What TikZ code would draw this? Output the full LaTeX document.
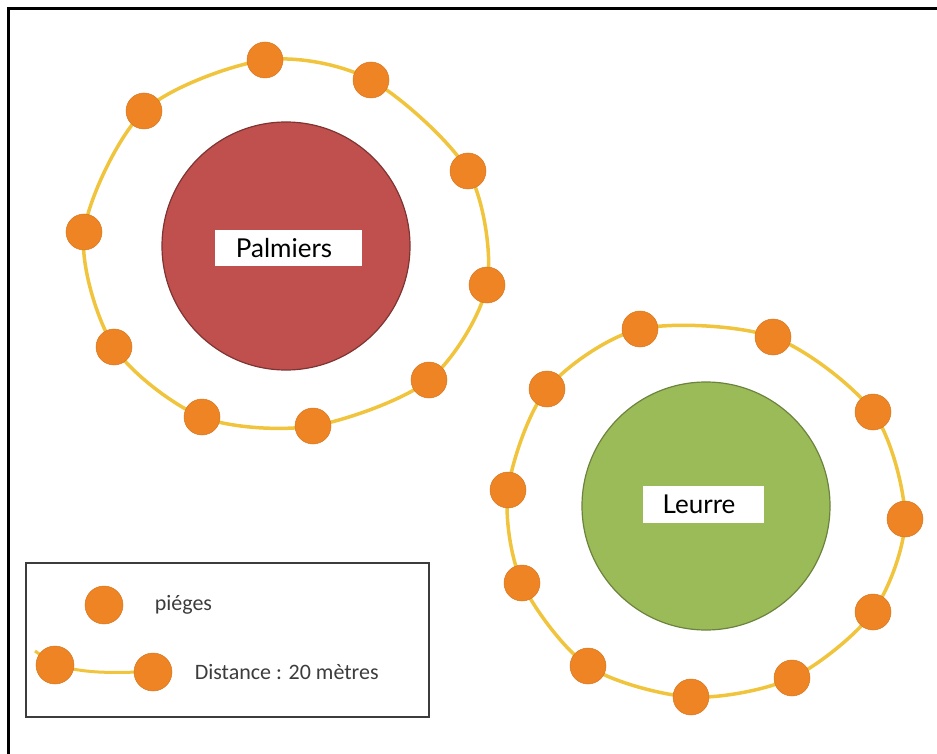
\documentclass[tikz,border=0pt]{standalone}
\usepackage{fontspec}
\setmainfont{Carlito}
\newfontfamily\tagfont{Lato}
\usetikzlibrary{positioning}

\definecolor{trapcol}{HTML}{EE8424}
\definecolor{ringcol}{HTML}{F0C43C}
\definecolor{palmred}{HTML}{C0504D}
\definecolor{lurgreen}{HTML}{9BBB59}
\definecolor{keygray}{HTML}{3C3C3C}

\tikzset{
  trap/.style={circle,fill=trapcol,draw=trapcol!90!black,line width=0.5pt,
    minimum size=36pt,inner sep=0pt},
  ringline/.style={draw=ringcol,line width=3.5pt},
  tagbox/.style={fill=white,inner sep=0pt,minimum height=35pt,
    font=\tagfont\fontsize{26}{30}\selectfont},
  keytext/.style={text=keygray,font=\fontsize{22}{26}\selectfont}
}

\begin{document}
\begin{tikzpicture}[x=1pt,y=-1pt]
  \useasboundingbox (0,0) rectangle (937,754);
  \draw[line width=3pt] (8,754) -- (8,9) -- (937,9);

  % palm trees and their ring of traps
  \node[circle,fill=palmred,draw=palmred!65!black,line width=1.2pt,
    minimum size=248pt] (palm) at (286,246) {};
  \node[tagbox,minimum width=147pt] (palmtag) at (288,248) {Palmiers\hspace*{8pt}};

  \foreach \i/\x/\y in {1/265/60,2/371/80,3/468/171,4/487/285,5/429/380,
      6/313/426,7/202/417,8/114/347,9/84/232,10/144/111}
    \coordinate (a\i) at (\x,\y);
  \draw[ringline] plot[smooth cycle] coordinates
    {(a1) (a2) (a3) (a4) (a5) (a6) (a7) (a8) (a9) (a10)};
  \foreach \i in {1,...,10}
    \path (a\i) node[trap] (palmtrap\i) {};

  % lure and its ring of traps
  \node[circle,fill=lurgreen,draw=lurgreen!70!black,line width=1.2pt,
    minimum size=248pt] (lure) at (706,506) {};
  \node[tagbox,minimum width=121pt,minimum height=37pt] (luretag) at (703,504) {Leurre\hspace*{8pt}};

  \foreach \i/\x/\y in {1/640/329,2/773/337,3/873/412,4/905/519,5/873/612,
      6/792/678,7/691/697,8/588/666,9/522/583,10/508/490,11/547/389}
    \coordinate (b\i) at (\x,\y);
  \draw[ringline] plot[smooth cycle] coordinates
    {(b1) (b2) (b3) (b4) (b5) (b6) (b7) (b8) (b9) (b10) (b11)};
  \foreach \i in {1,...,11}
    \path (b\i) node[trap] (luretrap\i) {};

  % legend
  \node[draw=keygray,line width=2.5pt,rectangle,inner sep=0pt,
    minimum width=403pt,minimum height=154pt] (legend) at (227.5,640) {};
  \node[trap,minimum size=38pt] (keytrap) at (104,605) {};
  \node[keytext,right=28pt of keytrap] (keytraptext) {piéges};

  \coordinate (keytail) at (35,651);
  \coordinate (keyapos) at (55,665);
  \coordinate (keybpos) at (153,672);
  \draw[ringline,line width=3pt] (keytail) -- (keyapos) to[out=-15,in=180] (keybpos);
  \node[trap,minimum size=38pt] (keya) at (keyapos) {};
  \node[trap,minimum size=38pt] (keyb) at (keybpos) {};
  \node[keytext,right=19pt of keyb] (keydist) {Distance : 20 mètres};
\end{tikzpicture}
\end{document}
